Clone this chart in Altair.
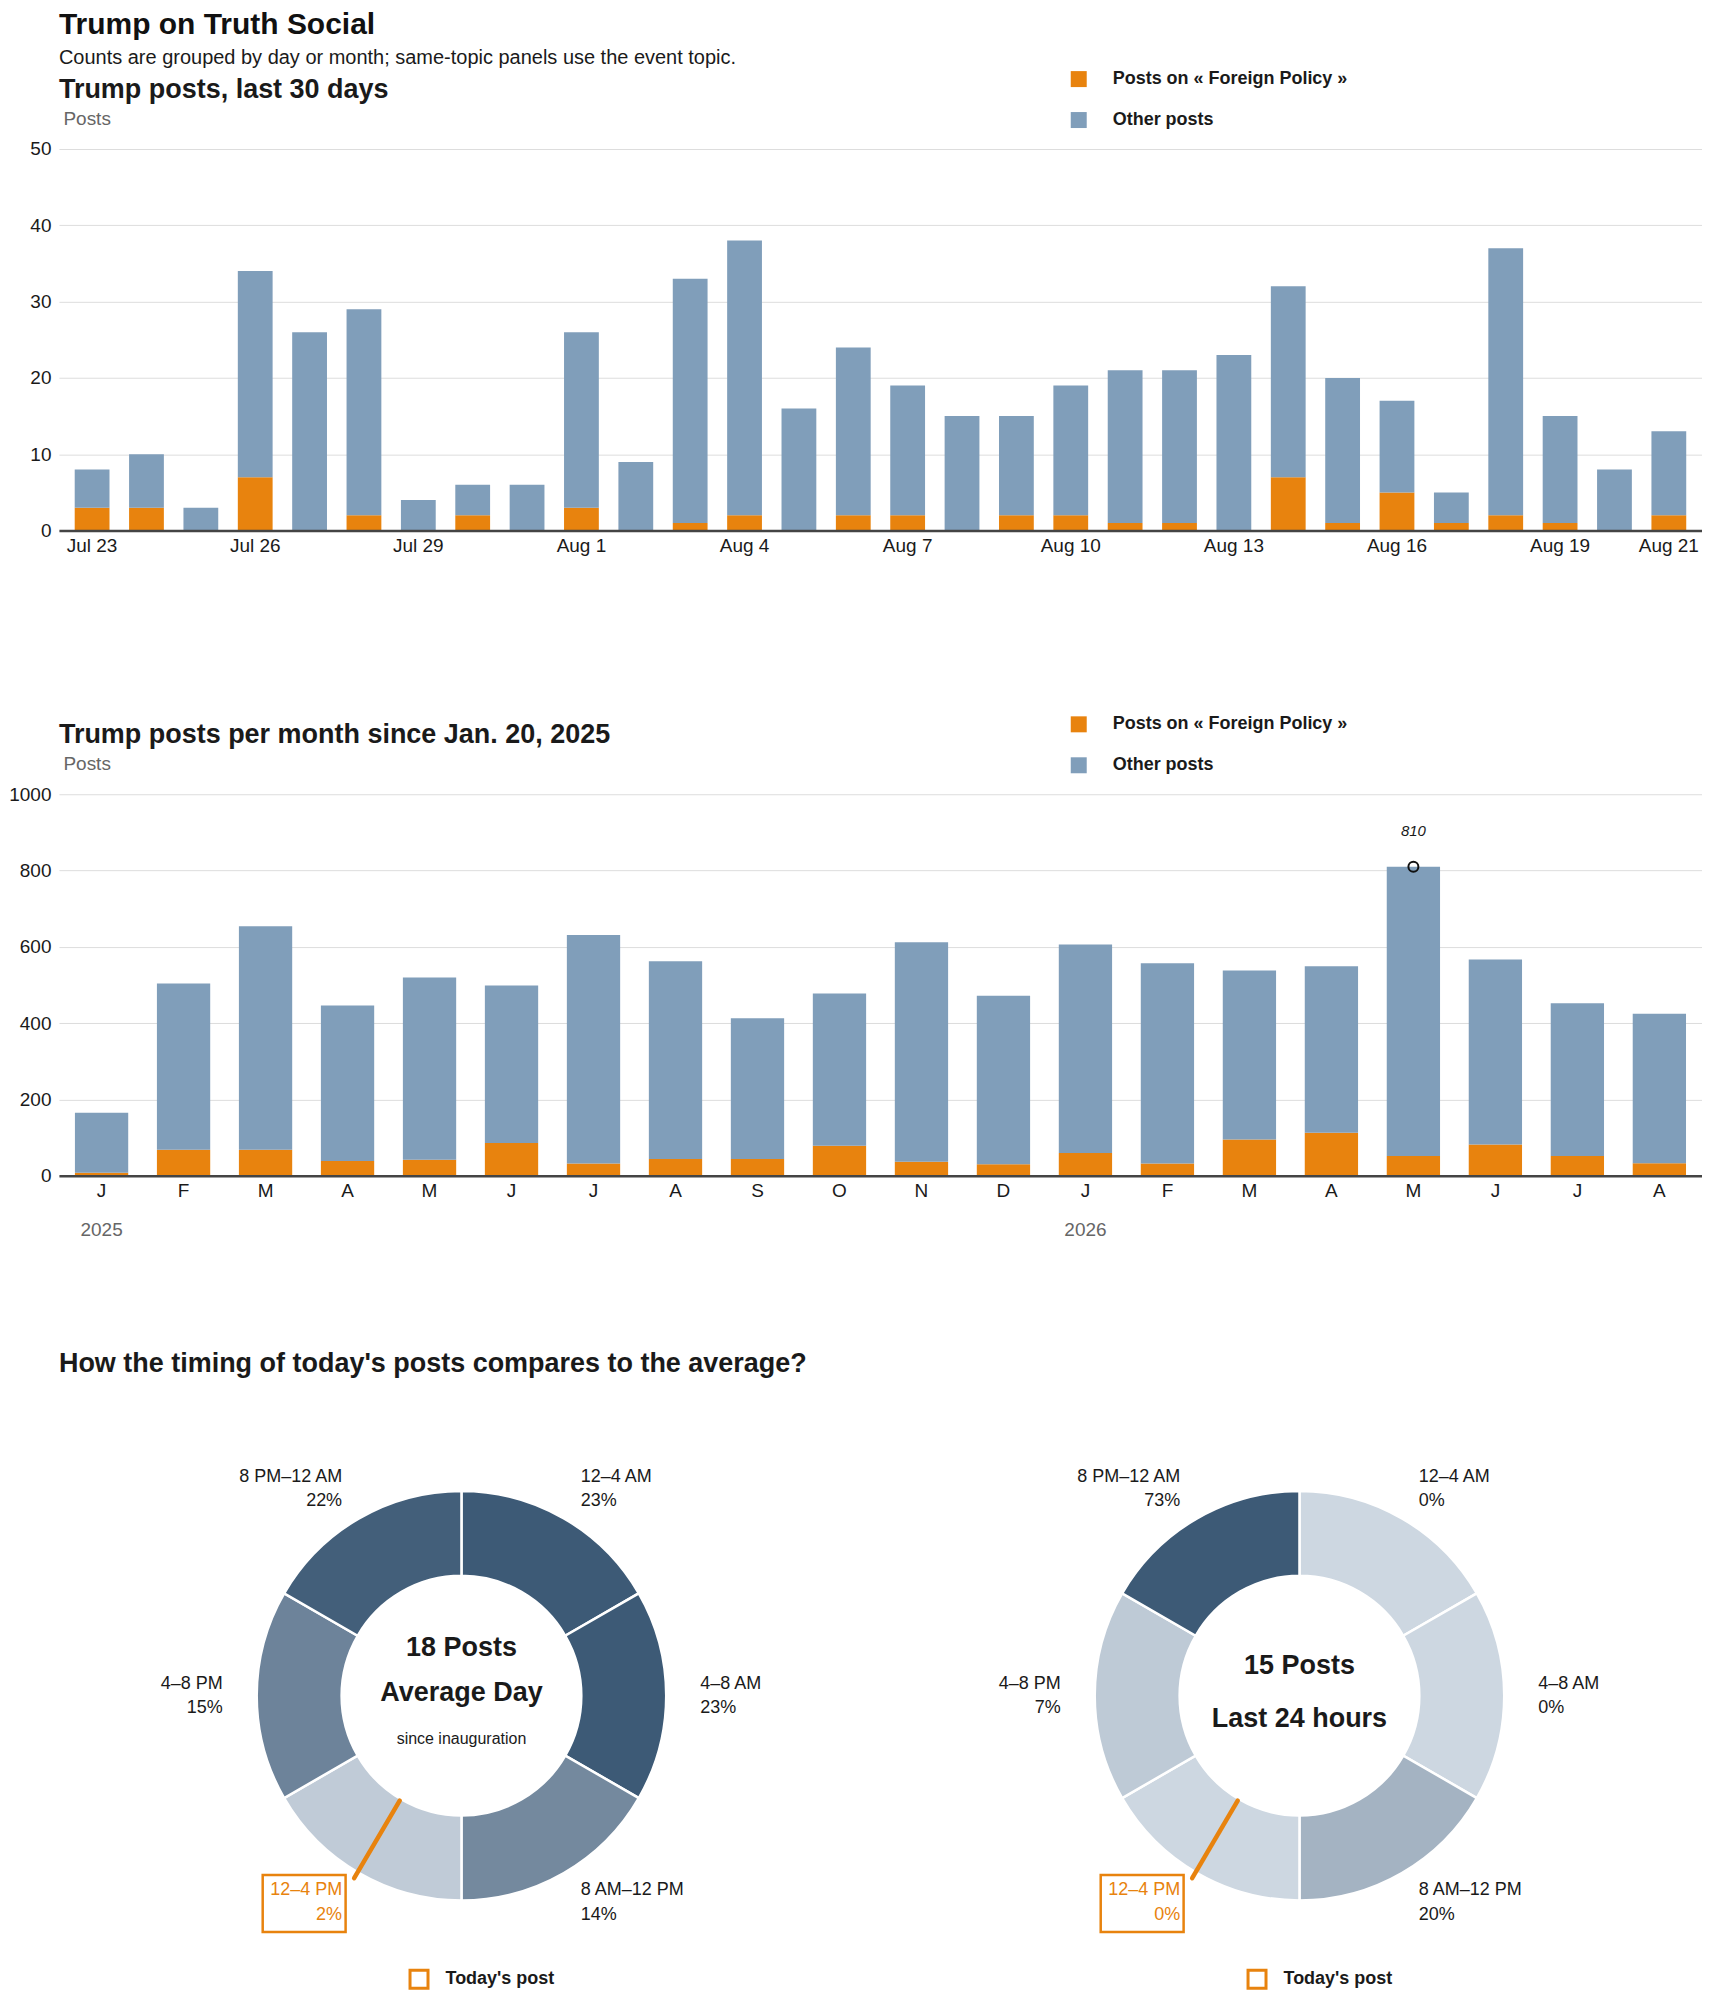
import math
import altair as alt
import pandas as pd

FONT = "Liberation Sans, Arial, sans-serif"
INK = "#1a1a1a"
GRAY = "#666666"
ORANGE = "#e8830e"
BLUE = "#809eba"
GRID = "#dddddd"
SLICE_LIGHT = "#cdd7e1"
SLICE_DARK = "#3d5a76"

MAIN_TITLE = "Trump on Truth Social"
MAIN_SUB = "Counts are grouped by day or month; same-topic panels use the event topic."
TITLE_DAYS = "Trump posts, last 30 days"
TITLE_MONTHS = "Trump posts per month since Jan. 20, 2025"
TITLE_TIMING = "How the timing of today's posts compares to the average?"
SERIES = ["Posts on « Foreign Policy »", "Other posts"]

# ---- last 30 days ----
days = ["Jul 23", "Jul 24", "Jul 25", "Jul 26", "Jul 27", "Jul 28", "Jul 29", "Jul 30",
        "Jul 31", "Aug 1", "Aug 2", "Aug 3", "Aug 4", "Aug 5", "Aug 6", "Aug 7", "Aug 8",
        "Aug 9", "Aug 10", "Aug 11", "Aug 12", "Aug 13", "Aug 14", "Aug 15", "Aug 16",
        "Aug 17", "Aug 18", "Aug 19", "Aug 20", "Aug 21"]
day_total = [8, 10, 3, 34, 26, 29, 4, 6, 6, 26, 9, 33, 38, 16, 24, 19, 15, 15, 19, 21,
             21, 23, 32, 20, 17, 5, 37, 15, 8, 13]
day_foreign = [3, 3, 0, 7, 0, 2, 0, 2, 0, 3, 0, 1, 2, 0, 2, 2, 0, 2, 2, 1,
               1, 0, 7, 1, 5, 1, 2, 1, 0, 2]
day_ticks = ["Jul 23", "Jul 26", "Jul 29", "Aug 1", "Aug 4", "Aug 7", "Aug 10",
             "Aug 13", "Aug 16", "Aug 19", "Aug 21"]
day_y_ticks = [0, 10, 20, 30, 40, 50]

# ---- per month ----
months = ["2025-01", "2025-02", "2025-03", "2025-04", "2025-05", "2025-06", "2025-07",
          "2025-08", "2025-09", "2025-10", "2025-11", "2025-12", "2026-01", "2026-02",
          "2026-03", "2026-04", "2026-05", "2026-06", "2026-07", "2026-08"]
month_total = [165, 504, 654, 446, 520, 499, 631, 562, 413, 478, 612, 472, 606, 557,
               538, 549, 810, 567, 452, 425]
month_foreign = [8, 68, 68, 39, 42, 86, 32, 44, 44, 79, 37, 30, 60, 32, 95, 113, 52, 82,
                 52, 33]
month_y_ticks = [0, 200, 400, 600, 800, 1000]

# ---- timing donuts ----
bins = ["12–4 AM", "4–8 AM", "8 AM–12 PM", "12–4 PM", "4–8 PM", "8 PM–12 AM"]
avg_share = [23, 23, 14, 2, 15, 22]
today_share = [0, 0, 20, 0, 7, 73]
avg_posts = 18
last24_posts = 15
today_post_hour = 14.03
LEGEND_TODAY = "Today's post"

W = 1645
H = 382


def long_df(keys, total, foreign, keyname):
    rows = []
    for k, t, f in zip(keys, total, foreign):
        rows.append({keyname: k, "series": SERIES[0], "value": f, "ord": 0})
        rows.append({keyname: k, "series": SERIES[1], "value": t - f, "ord": 1})
    return pd.DataFrame(rows)


def legend_def():
    return alt.Legend(title=None, orient="none", legendX=1012, legendY=-79,
                      direction="vertical", symbolType="square", symbolSize=256,
                      symbolStrokeWidth=0, symbolOpacity=1, labelFont=FONT,
                      labelFontSize=18, labelFontWeight="bold", labelColor=INK,
                      labelOffset=25, rowPadding=23, padding=0, labelLimit=500)


def color_enc():
    return alt.Color("series:N", scale=alt.Scale(domain=SERIES, range=[ORANGE, BLUE]),
                     legend=legend_def())


def y_axis(vals):
    return alt.Axis(values=vals, format="d", title="Posts", titleAngle=0, titleAlign="left",
                    titleBaseline="middle", titleX=4, titleY=-31, titleColor=GRAY,
                    titleFont=FONT, titleFontSize=19, titleFontWeight="normal",
                    domain=False, ticks=False, labelPadding=8, labelFont=FONT,
                    labelFontSize=19, labelColor=INK, gridColor=GRID, gridWidth=1,
                    minExtent=48, maxExtent=48)


def sec_title(text, offset):
    return alt.TitleParams(text, anchor="start", frame="group", font=FONT, fontSize=27,
                           fontWeight="bold", color=INK, offset=offset)


# ---------- chart 1 ----------
df1 = long_df(days, day_total, day_foreign, "day")
x1_axis = alt.Axis(title=None, values=day_ticks, labelAngle=0, labelOverlap=False,
                   ticks=False, domain=True, domainColor="#444444", domainWidth=2.5,
                   labelPadding=6, labelFont=FONT, labelFontSize=19, labelColor=INK,
                   grid=False, zindex=1)
c1 = alt.Chart(df1).mark_bar(strokeWidth=0).encode(
    x=alt.X("day:N", sort=days, scale=alt.Scale(paddingInner=0.36, paddingOuter=0.29),
            axis=x1_axis),
    y=alt.Y("value:Q", stack="zero", scale=alt.Scale(domain=[0, 50], nice=False),
            axis=y_axis(day_y_ticks)),
    color=color_enc(),
    order=alt.Order("ord:Q"),
).properties(width=W, height=H, title=sec_title(TITLE_DAYS, -34))

# ---------- chart 2 ----------
df2 = long_df(months, month_total, month_foreign, "month")
dfm = pd.DataFrame({"month": months, "total": month_total})
xscale2 = alt.Scale(domain=months, paddingInner=0.35, paddingOuter=0.195)
yscale2 = alt.Scale(domain=[0, 1000], nice=False)
month_axis = alt.Axis(title=None, labelAngle=0, labelOverlap=False, ticks=False,
                      domain=True, domainColor="#444444", domainWidth=2.5, labelPadding=6,
                      labelFont=FONT, labelFontSize=19, labelColor=INK, grid=False,
                      zindex=1,
                      labelExpr="substring(timeFormat(toDate(datum.value + '-15T12:00:00'), '%B'), 0, 1)")
year_axis = alt.Axis(title=None, orient="bottom", labelAngle=0, labelOverlap=False,
                     ticks=False, domain=False, grid=False, labelPadding=45,
                     labelFont=FONT, labelFontSize=19, labelColor=GRAY,
                     labelExpr="substring(datum.value, 5, 7) == '01' ? substring(datum.value, 0, 4) : ''")
bars2 = alt.Chart(df2).mark_bar(strokeWidth=0).encode(
    x=alt.X("month:N", scale=xscale2, axis=month_axis),
    y=alt.Y("value:Q", stack="zero", scale=yscale2, axis=y_axis(month_y_ticks)),
    color=color_enc(),
    order=alt.Order("ord:Q"),
)
peak = alt.Chart(dfm).transform_joinaggregate(peak="max(total)").transform_filter(
    "datum.total == datum.peak")
ann_text = peak.mark_text(dy=-36, fontStyle="italic", fontSize=15, font=FONT,
                          color=INK).encode(
    x=alt.X("month:N", scale=xscale2, axis=year_axis),
    y=alt.Y("total:Q", scale=yscale2, axis=y_axis(month_y_ticks)),
    text="total:Q",
)
ann_pt = peak.mark_point(shape="circle", size=100, filled=False, color="#111111",
                         strokeWidth=2, opacity=1).encode(
    x=alt.X("month:N", scale=xscale2, axis=None),
    y=alt.Y("total:Q", scale=yscale2, axis=y_axis(month_y_ticks)),
)
c2 = alt.layer(bars2, ann_text, ann_pt).resolve_axis(x="independent").properties(
    width=W, height=H, title=sec_title(TITLE_MONTHS, -34))

# ---------- donuts ----------
BOX_PATH = "M-1,-0.687L1,-0.687L1,0.687L-1,0.687Z"
DH = 513


def donut(shares, center_lines, DW):
    df = pd.DataFrame({"bin": bins, "share": shares, "idx": list(range(6))})
    df["hour"] = today_post_hour
    TH = alt.Scale(domain=[0, 6], range=[0, 2 * math.pi])
    XS = alt.Scale(domain=[-DW / 2, DW / 2], nice=False, zero=False)
    YS = alt.Scale(domain=[-DH / 2, DH / 2], nice=False, zero=False, reverse=True)
    base = alt.Chart(df).transform_joinaggregate(peak="max(share)").transform_calculate(
        rel="datum.share / datum.peak",
        i1="datum.idx + 1",
        mid="datum.idx + 0.5",
        label="datum.bin + '\\n' + datum.share + '%'",
        is_today="floor(datum.hour / 4) == datum.idx",
    )
    arcs = base.mark_arc(radius=205, radius2=120, stroke="white", strokeWidth=2.5).encode(
        theta=alt.Theta("idx:Q", scale=TH, stack=None),
        theta2="i1:Q",
        fill=alt.Fill("rel:Q", scale=alt.Scale(domain=[0, 1], range=[SLICE_LIGHT, SLICE_DARK]),
                      legend=None),
    )
    lab_kw = dict(radius=239, baseline="middle", lineBreak="\n", lineHeight=24.5,
                  font=FONT, fontSize=18, dy=-12)
    lab_enc = dict(theta=alt.Theta("mid:Q", scale=TH, stack=None), text="label:N",
                   color=alt.condition("datum.is_today", alt.value(ORANGE), alt.value(INK)))
    lab_r = base.transform_filter("datum.idx < 3").mark_text(align="left", **lab_kw).encode(**lab_enc)
    lab_l = base.transform_filter("datum.idx >= 3").mark_text(align="right", **lab_kw).encode(**lab_enc)

    box = base.transform_filter("datum.is_today").transform_calculate(
        ang="datum.mid / 6 * 2 * PI",
        bx="239 * sin(datum.ang)",
        by="-239 * cos(datum.ang)",
        kind='"' + LEGEND_TODAY + '"',
    ).mark_point(shape=BOX_PATH, size=83 * 83, filled=False, strokeWidth=2.5, opacity=1,
                 xOffset=-38, yOffset=1).encode(
        x=alt.X("bx:Q", scale=XS, axis=None),
        y=alt.Y("by:Q", scale=YS, axis=None),
        stroke=alt.Stroke("kind:N", scale=alt.Scale(range=[ORANGE]),
                          legend=alt.Legend(title=None, orient="none", legendX=DW / 2 - 53,
                                            legendY=530, symbolType="square", symbolSize=324,
                                            symbolStrokeWidth=3, symbolFillColor="white",
                                            labelFont=FONT, labelFontSize=18,
                                            labelFontWeight="bold", labelColor=INK,
                                            labelOffset=16, padding=0)),
    )
    today = alt.Chart(pd.DataFrame({"hour": [today_post_hour]})).transform_calculate(
        ang="datum.hour / 24 * 2 * PI",
        rx1="122 * sin(datum.ang)",
        ry1="-122 * cos(datum.ang)",
        rx2="212 * sin(datum.ang)",
        ry2="-212 * cos(datum.ang)",
    )
    rule = today.mark_rule(color=ORANGE, strokeWidth=4.5, strokeCap="round").encode(
        x=alt.X("rx1:Q", scale=XS, axis=None),
        y=alt.Y("ry1:Q", scale=YS, axis=None),
        x2="rx2:Q",
        y2="ry2:Q",
    )
    centers = []
    for text, dy, size, weight in center_lines:
        centers.append(
            alt.Chart(pd.DataFrame({"t": [text]})).mark_text(
                dy=dy, fontSize=size, fontWeight=weight, font=FONT, color=INK,
                baseline="middle").encode(
                x=alt.XDatum(0, scale=XS, axis=None),
                y=alt.YDatum(0, scale=YS, axis=None),
                text="t:N",
            )
        )
    return alt.layer(arcs, lab_r, lab_l, box, rule, *centers).properties(width=DW, height=DH)


d_left = donut(avg_share, [(f"{avg_posts} Posts", -48, 27, "bold"),
                           ("Average Day", -3, 27, "bold"),
                           ("since inauguration", 43, 16, "normal")], 806)
d_right = donut(today_share, [(f"{last24_posts} Posts", -30, 27, "bold"),
                              ("Last 24 hours", 23.5, 27, "bold")], 760)
donuts = alt.hconcat(d_left, d_right, spacing=56, bounds="flush").resolve_scale(
    stroke="independent", fill="independent").resolve_legend(
    stroke="independent").properties(title=sec_title(TITLE_TIMING, 62))

chart = alt.vconcat(c1, c2, donuts, spacing=264, bounds="flush").resolve_scale(
    color="independent", stroke="independent", fill="independent").resolve_legend(
    color="independent", stroke="independent").properties(
    title=alt.TitleParams(MAIN_TITLE, subtitle=MAIN_SUB, anchor="start", frame="group",
                          font=FONT, fontSize=30, fontWeight="bold", color="#111111",
                          subtitleFont=FONT, subtitleFontSize=20, subtitleColor=INK,
                          subtitlePadding=8, offset=2),
    padding={"left": 0, "top": 1, "right": 0, "bottom": 0},
).configure(font=FONT).configure_view(stroke=None)

chart.save("out.html", embed_options={"renderer": "svg", "actions": False})
